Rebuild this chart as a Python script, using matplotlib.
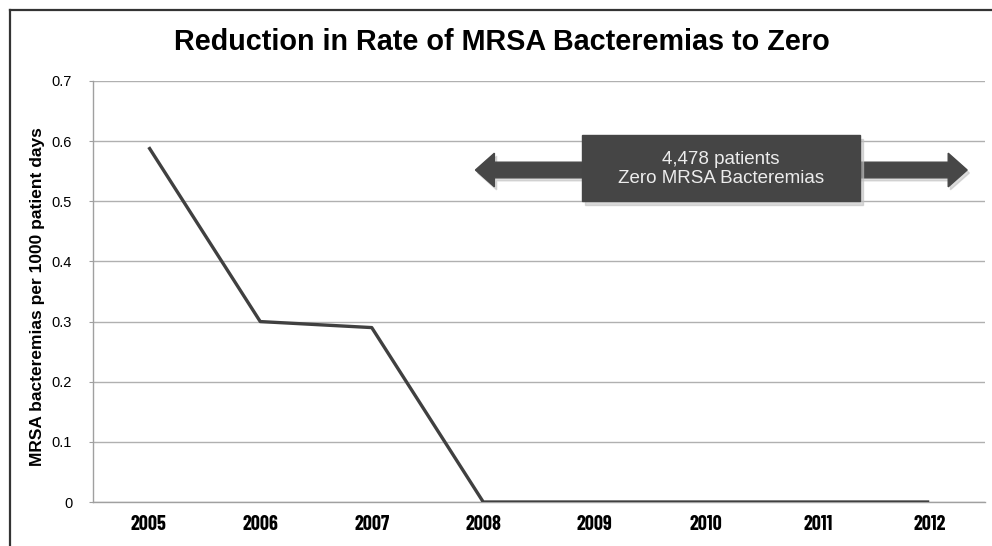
import matplotlib
matplotlib.use("Agg")
import matplotlib.pyplot as plt
import matplotlib.patches as mpatches
from matplotlib.lines import Line2D

years = ["2005", "2006", "2007", "2008", "2009", "2010", "2011", "2012"]
rates = [0.59, 0.30, 0.29, 0.0, 0.0, 0.0, 0.0, 0.0]
yticks = [0, 0.1, 0.2, 0.3, 0.4, 0.5, 0.6, 0.7]
ytick_labels = ["0", "0.1", "0.2", "0.3", "0.4", "0.5", "0.6", "0.7"]

title = "Reduction in Rate of MRSA Bacteremias to Zero"
ylabel = "MRSA bacteremias per 1000 patient days"
box_text = "4,478 patients\nZero MRSA Bacteremias"

plt.rcParams['font.family'] = ['Liberation Sans', 'DejaVu Sans']

fig = plt.figure(figsize=(9.92, 5.46), dpi=100)
ax = fig.add_axes([93/992, 1-502/546, (985-93)/992, (502-81)/546])

x = list(range(len(years)))
ax.plot(x, rates, color="#404040", lw=2.4, solid_capstyle="butt", zorder=3)

ax.set_xlim(-0.5, len(years) - 0.5)
ax.set_ylim(0, 0.7)
ax.set_yticks(yticks)
ax.set_yticklabels(ytick_labels, fontsize=10.5)
ax.set_xticks(x)
ax.set_xticklabels(years, fontsize=14.5, fontweight="bold",
                   family=['Liberation Sans Narrow', 'Barlow Condensed',
                           'Liberation Sans', 'DejaVu Sans'])
ax.tick_params(axis="x", length=0, pad=9)
ax.tick_params(axis="y", length=3, color="#a0a0a0", pad=12)

ax.grid(axis="y", color="#b0b0b0", lw=1)
ax.set_axisbelow(True)
for s in ["top", "right"]:
    ax.spines[s].set_visible(False)
ax.spines["left"].set_color("#a0a0a0")
ax.spines["bottom"].set_color("#a0a0a0")
ax.spines["left"].set_linewidth(1)
ax.spines["bottom"].set_linewidth(1)

ax.set_ylabel(ylabel, fontsize=12.5, fontweight="bold")
ax.yaxis.set_label_coords((45 - 93) / 892, 0.487)
fig.text(502/992, 1-42/546, title, ha="center", va="center",
         fontsize=20.7, fontweight="bold")

# double arrow
yc = 0.552
left_tip, right_tip = 2.93, 7.34
mid = 5.13
for end in (left_tip, right_tip):
    sh = mpatches.FancyArrow(mid + 0.02, yc - 0.005, end - mid, 0, width=0.026,
                             head_width=0.056, head_length=0.17,
                             length_includes_head=True,
                             color="#bbbbbb", alpha=0.5, zorder=3.5)
    ax.add_patch(sh)
    arr = mpatches.FancyArrow(mid, yc, end - mid, 0, width=0.026,
                              head_width=0.056, head_length=0.17,
                              length_includes_head=True,
                              color="#474747", zorder=4)
    ax.add_patch(arr)

bx0, bx1 = 3.886, 6.379
by0, by1 = 0.5005, 0.610
shadow = mpatches.Rectangle((bx0 + 0.03, by0 - 0.006), bx1 - bx0, by1 - by0,
                            color="#c0c0c0", alpha=0.6, zorder=4.5)
ax.add_patch(shadow)
box = mpatches.Rectangle((bx0, by0), bx1 - bx0, by1 - by0,
                         color="#454545", zorder=5)
ax.add_patch(box)
ax.text((bx0 + bx1) / 2, (by0 + by1) / 2 - 0.002, box_text, ha="center", va="center",
        color="#ececec", fontsize=13.5, linespacing=1.15, zorder=6)

# outer frame lines
fig.add_artist(Line2D([10/992, 10/992], [0, 1-10/546], color="#333333", lw=1.6,
                      transform=fig.transFigure))
fig.add_artist(Line2D([10/992, 1], [1-10/546, 1-10/546], color="#333333", lw=1.6,
                      transform=fig.transFigure))

fig.savefig("out.png", dpi=100)
